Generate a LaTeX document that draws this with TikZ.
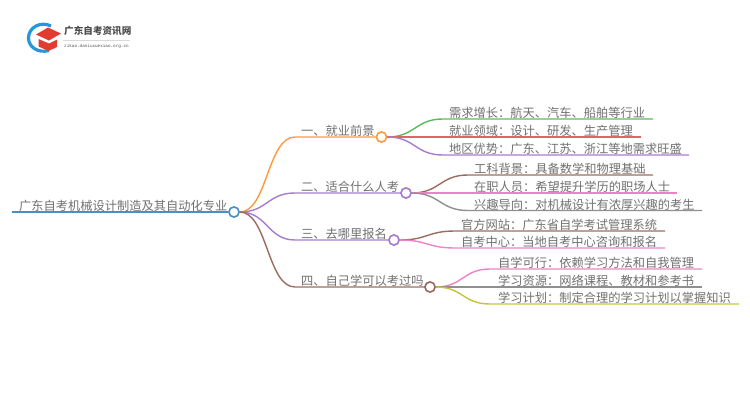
\documentclass[tikz,border=0pt]{standalone}
\usepackage{fontspec}
\setmainfont{Noto Sans CJK SC}
\newfontfamily\logosans{Liberation Mono}
\usetikzlibrary{calc}
\definecolor{txt}{HTML}{707070}
\definecolor{cblue}{HTML}{4A90C4}
\definecolor{corange}{HTML}{FF9A3C}
\definecolor{cpurple}{HTML}{A77BCF}
\definecolor{cbrown}{HTML}{9C6B60}
\definecolor{cgreen}{HTML}{5CBB5C}
\definecolor{cred}{HTML}{E0656B}
\definecolor{cpink}{HTML}{EE82C8}
\definecolor{cgray}{HTML}{8F8F8F}
\definecolor{colive}{HTML}{C4C43C}
\definecolor{logoblue}{HTML}{2896D7}
\definecolor{logored}{HTML}{E23C32}
\tikzset{
  x=1pt,y=-1pt,
  lab/.style={anchor=south west,inner sep=0pt,text=txt,font=\fontsize{12.25}{13}\selectfont},
  hub/.style={circle,draw=#1,fill=white,line width=1.5pt,minimum size=10pt,inner sep=0pt},
  link/.style={line width=1.4pt,draw=#1},
}
\newcommand{\mybranch}[4]{%
  \coordinate (m) at ($(#1.east)!0.5!(#2)$);
  \draw[link=#3] (#1.east) .. controls (m |- #1.east) and (m |- #2) .. (#2) -- (#4);
}
\begin{document}
\begin{tikzpicture}
\useasboundingbox (0,0) rectangle (750,410);
% logo
\draw[logoblue,line width=3.2pt] (51,26) .. controls (41,21) and (28.5,27) .. (28.5,38) .. controls (28.5,47) and (38,53.5) .. (49,50.5);
\fill[logored] (36,34.5) -- (48,27.5) -- (61,33.5) -- (49,40.5) -- cycle;
\fill[logored] (38.5,39) -- (49,43.5) -- (57,39.5) -- (57,47) -- (48.5,51) -- (38.5,46.5) -- cycle;
\node[anchor=west,inner sep=0pt,text=black!70,font=\fontsize{9.6}{10}\selectfont\bfseries] (brand) at (64,31) {广东自考资讯网};
\coordinate (ruleA) at (63,40);
\coordinate (ruleB) at (130,40);
\draw[black!15,line width=.5pt] (ruleA) -- (ruleB);
\node[anchor=west,inner sep=0pt,text=black!70,font=\logosans\fontsize{4.3}{6}\selectfont] (site) at (64,46.5) {zikao.daniuxuexiao.org.cn};

% hubs
\node[hub=cblue] (root) at (234,212) {};
\node[hub=corange] (b1) at (381.5,137) {};
\node[hub=cpurple] (b2) at (406,193) {};
\node[hub=cpurple] (b3) at (394,240) {};
\node[hub=cbrown] (b4) at (430,287) {};

\coordinate (rootS) at (12,212);
\foreach \n/\x/\y in {a1/295/137,a1e/377/137,a2/295/193,a2e/401/193,a3/295/240,a3e/389/240,a4/295/287,a4e/425/287,
 c11/443/119,c11e/653/119,c12/443/137,c12e/641/137,c13/443/155,c13e/689/155,
 c21/468/175,c21e/653/175,c22/468/193,c22e/677/193,c23/468/210.5,c23e/702/210.5,
 c31/455/231,c31e/665/231,c32/455/248,c32e/665/248,
 c41/490/269,c41e/702/269,c42/490/287,c42e/702/287,c43/490/304,c43e/739/304}
 {\coordinate (\n) at (\x,\y);}
\draw[link=cblue,line width=2pt] (rootS) -- (root.west);
\mybranch{root}{a1}{corange}{a1e}
\mybranch{root}{a2}{cpurple}{a2e}
\mybranch{root}{a3}{cpurple}{a3e}
\mybranch{root}{a4}{cbrown}{a4e}
\mybranch{b1}{c11}{cgreen}{c11e}
\mybranch{b1}{c12}{cred}{c12e}
\mybranch{b1}{c13}{cpurple}{c13e}
\mybranch{b2}{c21}{cbrown}{c21e}
\mybranch{b2}{c22}{cpink}{c22e}
\mybranch{b2}{c23}{cgray}{c23e}
\mybranch{b3}{c31}{cbrown}{c31e}
\mybranch{b3}{c32}{cpink}{c32e}
\mybranch{b4}{c41}{cpink}{c41e}
\mybranch{b4}{c42}{cgray}{c42e}
\mybranch{b4}{c43}{colive}{c43e}
% hubs on top
\node[hub=cblue] at (root) {};
\node[hub=corange] at (b1) {};
\node[hub=cpurple] at (b2) {};
\node[hub=cpurple] at (b3) {};
\node[hub=cbrown] at (b4) {};
% labels
\node[lab] (t0) at (19,212) {广东自考机械设计制造及其自动化专业};
\node[lab] (t1) at (301,137) {一、就业前景};
\node[lab] (t2) at (301,193) {二、适合什么人考};
\node[lab] (t3) at (301,240) {三、去哪里报名};
\node[lab] (t4) at (301,287) {四、自己学可以考过吗};
\node[lab] (t11) at (449,119) {需求增长：航天、汽车、船舶等行业};
\node[lab] (t12) at (449,137) {就业领域：设计、研发、生产管理};
\node[lab] (t13) at (449,155) {地区优势：广东、江苏、浙江等地需求旺盛};
\node[lab] (t21) at (474,175) {工科背景：具备数学和物理基础};
\node[lab] (t22) at (474,193) {在职人员：希望提升学历的职场人士};
\node[lab] (t23) at (474,210.5) {兴趣导向：对机械设计有浓厚兴趣的考生};
\node[lab] (t31) at (461,231) {官方网站：广东省自学考试管理系统};
\node[lab] (t32) at (461,248) {自考中心：当地自考中心咨询和报名};
\node[lab] (t41) at (498,269) {自学可行：依赖学习方法和自我管理};
\node[lab] (t42) at (498,287) {学习资源：网络课程、教材和参考书};
\node[lab] (t43) at (498,304) {学习计划：制定合理的学习计划以掌握知识};
\end{tikzpicture}
\end{document}
